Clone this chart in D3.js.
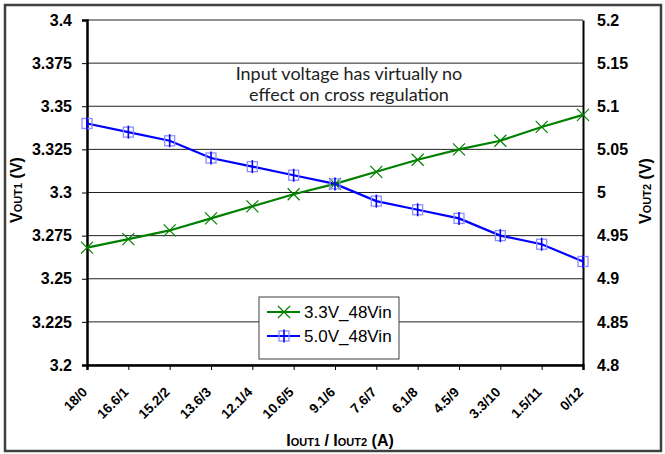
<!DOCTYPE html>
<html>
<head>
<meta charset="utf-8">
<script src="https://cdn.jsdelivr.net/npm/d3@7"></script>
<style>
  body { margin: 0; background: #fff; }
  svg { display: block; font-family: "Liberation Sans", Arial, sans-serif; }
  .bold { font-family: "Liberation Sans", Arial, sans-serif; font-weight: 700; }
</style>
</head>
<body>
<div id="vis"></div>
<script>
// data
const categories = ["18/0", "16.6/1", "15.2/2", "13.6/3", "12.1/4", "10.6/5", "9.1/6",
                    "7.6/7", "6.1/8", "4.5/9", "3.3/10", "1.5/11", "0/12"];
const vout1 = [3.268, 3.273, 3.278, 3.285, 3.292, 3.299, 3.305, 3.312, 3.319, 3.325, 3.330, 3.338, 3.345];
const vout2 = [5.08, 5.07, 5.06, 5.04, 5.03, 5.02, 5.01, 4.99, 4.98, 4.97, 4.95, 4.94, 4.92];
const leftTicks = ["3.2", "3.225", "3.25", "3.275", "3.3", "3.325", "3.35", "3.375", "3.4"];
const rightTicks = ["4.8", "4.85", "4.9", "4.95", "5", "5.05", "5.1", "5.15", "5.2"];
const seriesNames = ["3.3V_48Vin", "5.0V_48Vin"];

const FRAME_WIDTH = 665;
const FRAME_HEIGHT = 454;
const PLOT = {left: 87, right: 583, top: 20, bottom: 365};

const FRAME = d3.select("#vis")
  .append("svg")
    .attr("width", FRAME_WIDTH)
    .attr("height", FRAME_HEIGHT);

// outer border
FRAME.append("rect")
  .attr("x", 5).attr("y", 5)
  .attr("width", 656).attr("height", 446)
  .attr("fill", "#fff")
  .attr("stroke", "#404040")
  .attr("stroke-width", 2.5);

const X_SCALE = d3.scalePoint()
  .domain(categories)
  .range([PLOT.left, PLOT.right]);

const Y_LEFT = d3.scaleLinear()
  .domain([3.2, 3.4])
  .range([PLOT.bottom, PLOT.top]);

const Y_RIGHT = d3.scaleLinear()
  .domain([4.8, 5.2])
  .range([PLOT.bottom, PLOT.top]);

// gridlines
FRAME.append("g")
  .selectAll("line")
  .data(leftTicks)
  .enter()
  .append("line")
    .attr("x1", PLOT.left).attr("x2", PLOT.right)
    .attr("y1", d => Y_LEFT(+d)).attr("y2", d => Y_LEFT(+d))
    .attr("stroke", "#222")
    .attr("stroke-width", 1);

// left axis
const leftAxis = FRAME.append("g")
  .attr("transform", "translate(" + PLOT.left + ",0)")
  .call(d3.axisLeft(Y_LEFT).tickValues(leftTicks.map(Number))
          .tickFormat((d, i) => leftTicks[i]).tickSizeOuter(0).tickSize(5).tickPadding(10));
leftAxis.attr("font-family", null).attr("font-size", null);
leftAxis.select(".domain").attr("stroke", "#000").attr("stroke-width", 2.5);
leftAxis.selectAll("text").attr("class", "bold").style("font-size", "16px").attr("fill", "#000");

// right axis
const rightAxis = FRAME.append("g")
  .attr("transform", "translate(" + PLOT.right + ",0)")
  .call(d3.axisRight(Y_RIGHT).tickValues(rightTicks.map(Number))
          .tickFormat((d, i) => rightTicks[i]).tickSizeOuter(0).tickSize(0).tickPadding(14));
rightAxis.attr("font-family", null).attr("font-size", null);
rightAxis.select(".domain").attr("stroke", "#000").attr("stroke-width", 2);
rightAxis.selectAll("text").attr("class", "bold").style("font-size", "16px").attr("fill", "#000");

// bottom axis (labels drawn separately, rotated)
const xAxis = FRAME.append("g")
  .attr("transform", "translate(0," + PLOT.bottom + ")")
  .call(d3.axisBottom(X_SCALE).tickSizeOuter(0).tickSize(5).tickFormat(""));
xAxis.select(".domain").attr("stroke", "#000").attr("stroke-width", 2.5);

FRAME.append("g")
  .selectAll("text")
  .data(categories)
  .enter()
  .append("text")
    .attr("class", "bold")
    .attr("transform", d => "translate(" + (X_SCALE(d) + 1) + ",393) rotate(-45)")
    .attr("text-anchor", "end")
    .style("font-size", "13.5px")
    .attr("fill", "#000")
    .text(d => d);

// annotation
const note = FRAME.append("text")
  .attr("text-anchor", "middle")
  .attr("font-family", "Lato, 'Noto Sans', sans-serif")
  .attr("font-size", "18px")
  .attr("fill", "#222");
note.append("tspan").attr("x", 349).attr("y", 80).text("Input voltage has virtually no");
note.append("tspan").attr("x", 349).attr("y", 101).text("effect on cross regulation");

// series lines
const line1 = d3.line().x((d, i) => X_SCALE(categories[i])).y(d => Y_LEFT(d));
const line2 = d3.line().x((d, i) => X_SCALE(categories[i])).y(d => Y_RIGHT(d));

FRAME.append("path")
  .datum(vout1)
  .attr("d", line1)
  .attr("fill", "none")
  .attr("stroke", "#008000")
  .attr("stroke-width", 2.2);

FRAME.append("path")
  .datum(vout2)
  .attr("d", line2)
  .attr("fill", "none")
  .attr("stroke", "#0000ff")
  .attr("stroke-width", 2.2);

function crossMark(g) {
  g.append("path")
    .attr("d", "M-6,-6L6,6M-6,6L6,-6")
    .attr("stroke", "#008000")
    .attr("stroke-width", 1.2)
    .attr("fill", "none");
}

function boxMark(g) {
  g.append("rect")
    .attr("x", -5).attr("y", -5)
    .attr("width", 10).attr("height", 10)
    .attr("fill", "none")
    .attr("stroke", "#8f8fff")
    .attr("stroke-width", 1.3);
  g.append("path")
    .attr("d", "M0,-6.5V6.5")
    .attr("stroke", "#0000ff")
    .attr("stroke-width", 1.6);
}

FRAME.append("g")
  .selectAll("g")
  .data(vout1)
  .enter()
  .append("g")
    .attr("transform", (d, i) => "translate(" + X_SCALE(categories[i]) + "," + Y_LEFT(d) + ")")
    .each(function() { crossMark(d3.select(this)); });

FRAME.append("g")
  .selectAll("g")
  .data(vout2)
  .enter()
  .append("g")
    .attr("transform", (d, i) => "translate(" + X_SCALE(categories[i]) + "," + Y_RIGHT(d) + ")")
    .each(function() { boxMark(d3.select(this)); });

// legend
const legend = FRAME.append("g").attr("transform", "translate(259,297)");
legend.append("rect")
  .attr("width", 140).attr("height", 62)
  .attr("fill", "#fff")
  .attr("stroke", "#404040")
  .attr("stroke-width", 1);

const legendColors = ["#008000", "#0000ff"];
seriesNames.forEach((name, i) => {
  const row = legend.append("g").attr("transform", "translate(0," + (15 + i * 24) + ")");
  row.append("line")
    .attr("x1", 8).attr("x2", 41)
    .attr("stroke", legendColors[i])
    .attr("stroke-width", 2.2);
  const m = row.append("g").attr("transform", "translate(25,0)");
  if (i === 0) crossMark(m); else boxMark(m);
  row.append("text")
    .attr("x", 45)
    .attr("dy", "0.36em")
    .attr("font-size", "17px")
    .attr("fill", "#000")
    .text(name);
});

// axis titles
function axisTitle(x, y, rot, main, sub, tail) {
  const t = FRAME.append("text")
    .attr("class", "bold")
    .attr("transform", "translate(" + x + "," + y + ") rotate(" + rot + ")")
    .attr("text-anchor", "middle")
    .style("font-size", "16px")
    .attr("fill", "#000");
  t.append("tspan").text(main);
  t.append("tspan").style("font-size", "11px").text(sub);
  t.append("tspan").text(tail);
  return t;
}

axisTitle(22, 190, -90, "V", "OUT1", " (V)");
axisTitle(651, 191, -90, "V", "OUT2", " (V)");

const xt = FRAME.append("text")
  .attr("class", "bold")
  .attr("x", 340).attr("y", 446)
  .attr("text-anchor", "middle")
  .style("font-size", "16px")
  .attr("fill", "#000");
xt.append("tspan").text("I");
xt.append("tspan").style("font-size", "11px").text("OUT1");
xt.append("tspan").text(" / I");
xt.append("tspan").style("font-size", "11px").text("OUT2");
xt.append("tspan").text(" (A)");
</script>
</body>
</html>
